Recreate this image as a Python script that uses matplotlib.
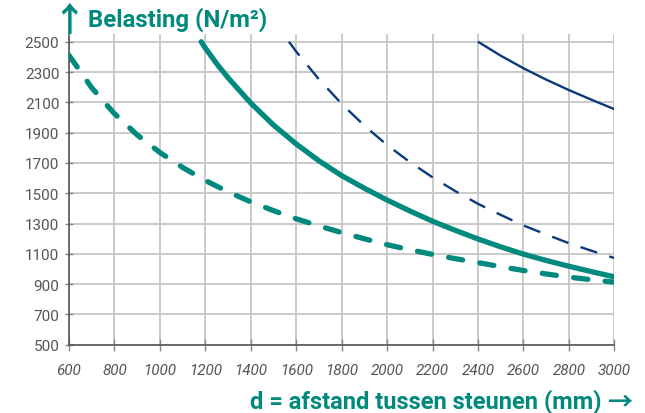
import matplotlib
matplotlib.use("Agg")
import matplotlib.pyplot as plt

# ---- data ----
# thick dashed teal
d_teal_dash = [600, 700, 800, 900, 1000, 1100, 1200, 1300, 1400, 1500, 1600, 1700, 1800, 1900,
               2000, 2100, 2200, 2300, 2400, 2500, 2600, 2700, 2800, 2900, 3000]
v_teal_dash = [2410, 2196, 2025, 1885, 1769, 1670, 1584, 1509, 1443, 1385, 1331, 1284, 1240, 1199,
               1160, 1127, 1096, 1068, 1042, 1015, 990, 967, 946, 929, 913]
# thick solid teal
d_teal_solid = [1182, 1200, 1250, 1300, 1400, 1500, 1600, 1700, 1800, 1900, 2000, 2100, 2200,
                2300, 2400, 2500, 2600, 2700, 2800, 2900, 3000]
v_teal_solid = [2500, 2458, 2355, 2262, 2095, 1950, 1825, 1714, 1616, 1533, 1455, 1383, 1315,
                1255, 1198, 1146, 1098, 1056, 1018, 982, 948]
# thin dashed navy
d_navy_dash = [1568, 1600, 1700, 1800, 1900, 2000, 2100, 2200, 2300, 2400, 2500, 2600, 2700, 2800, 2900, 3000]
v_navy_dash = [2500, 2435, 2252, 2090, 1946, 1818, 1706, 1605, 1514, 1430, 1357, 1287, 1228, 1170, 1120, 1072]
# thin solid navy
d_navy_solid = [2400, 2500, 2600, 2700, 2800, 2900, 3000]
v_navy_solid = [2500, 2408, 2325, 2250, 2181, 2117, 2055]

x_ticks = [600, 800, 1000, 1200, 1400, 1600, 1800, 2000, 2200, 2400, 2600, 2800, 3000]
y_ticks = [500, 700, 900, 1100, 1300, 1500, 1700, 1900, 2100, 2300, 2500]

y_title = "Belasting (N/m²)"
x_title = "d = afstand tussen steunen (mm)"
up_arrow = "↑"
right_arrow = "→"

TEAL = "#00897d"
NAVY = "#0b3a7a"
GRID = "#c6c6c6"
TXT = "#555555"
FAM = ["Roboto", "DejaVu Sans"]
ARROW_FAM = ["Noto Sans CJK SC", "DejaVu Sans"]

W, H = 645, 414
fig = plt.figure(figsize=(W / 100, H / 100), dpi=100)
ax = fig.add_axes([69 / W, 1 - 345.7 / H, (614.3 - 69) / W, (345.7 - 35) / H])

ax.set_xlim(600, 3000)
ax.set_ylim(500, 2551)
ax.set_xticks(x_ticks)
ax.set_yticks(y_ticks)
ax.set_xticklabels([str(t) for t in x_ticks], fontstyle="italic", family=FAM, fontsize=11, color=TXT)
ax.set_yticklabels([str(t) for t in y_ticks], family=FAM, fontsize=11, color=TXT)
ax.grid(True, color=GRID, lw=1.3, zorder=0)
ax.set_axisbelow(True)
for s in ["top", "right"]:
    ax.spines[s].set_visible(False)
for s in ["left", "bottom"]:
    ax.spines[s].set_color("#555555")
    ax.spines[s].set_linewidth(1.2)
ax.tick_params(axis="y", length=6, width=1.0, color="#888888", pad=4, direction="inout")
ax.tick_params(axis="x", length=8, width=1.0, color="#888888", pad=9, direction="inout")

ax.plot(d_navy_solid, v_navy_solid, color=NAVY, lw=1.7, solid_capstyle="butt", zorder=3)
ax.plot(d_navy_dash, v_navy_dash, color=NAVY, lw=1.7, dashes=(7.4, 5.4), dash_capstyle="butt", zorder=3)
ax.plot(d_teal_solid, v_teal_solid, color=TEAL, lw=3.8, solid_capstyle="round", solid_joinstyle="round", zorder=4)
ax.plot(d_teal_dash, v_teal_dash, color=TEAL, lw=3.8, dashes=(2.7, 3.3), dash_capstyle="round", zorder=4)

# titles, fitted to measured pixel widths
fig.canvas.draw()
r = fig.canvas.get_renderer()

def fitted(x, y, s, target_w, ha, family=FAM, va="baseline"):
    t = fig.text(x / W, 1 - y / H, s, family=family, fontweight="bold", color=TEAL,
                 fontsize=15, ha=ha, va=va)
    w = t.get_window_extent(r).width
    t.set_fontsize(15 * target_w / w)
    return t

fitted(88, 27, y_title, 180, "left")
fitted(602, 409, x_title, 353, "right")
ra = fitted(633, 402, right_arrow, 25, "right", family=ARROW_FAM, va="center")
fig.text(69 / W, 1 - 22 / H, up_arrow, family=ARROW_FAM, fontweight="bold", color=TEAL,
         fontsize=ra.get_fontsize() * 1.35, ha="center", va="center")

fig.savefig("out.png", dpi=100)
